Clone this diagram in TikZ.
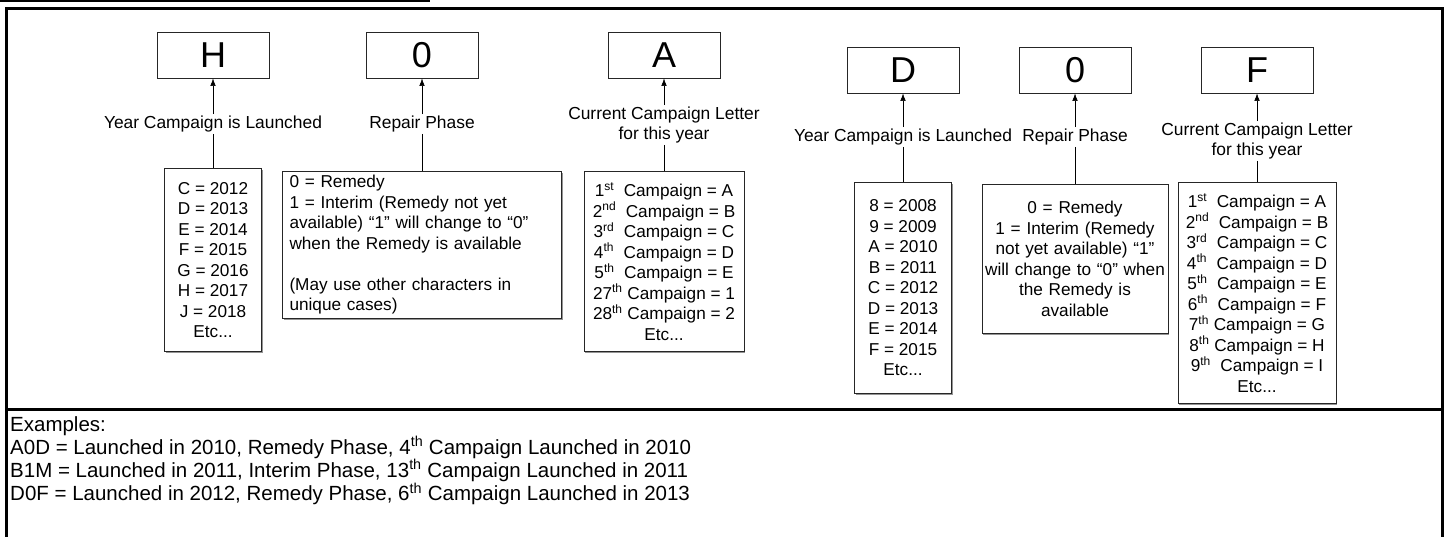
\documentclass[tikz,border=0pt]{standalone}
\usepackage{fontspec}
\setmainfont{Liberation Sans}
\usetikzlibrary{arrows.meta,shadows}
\tikzset{
  letterbox/.style={draw=black!85, line width=0.8pt, fill=white, minimum width=112pt, minimum height=46pt, inner sep=0pt,
    font=\fontsize{36}{40}\selectfont, drop shadow={shadow xshift=1.2pt, shadow yshift=-1.2pt, opacity=0.6, fill=black!70}},
  listbox/.style={draw=black!85, line width=0.8pt, fill=white, anchor=north, inner sep=0pt,
    font=\fontsize{17.2}{20.5}\selectfont, drop shadow={shadow xshift=1.2pt, shadow yshift=-1.2pt, opacity=0.6, fill=black!70}},
  lab/.style={inner sep=1.5pt, font=\fontsize{17.4}{20}\selectfont, align=center},
  upto/.style={-{Latex[length=7.5pt,width=5.5pt]}, line width=0.6pt},
  conn/.style={line width=0.6pt},
  frame/.style={line width=3pt}
}
\begin{document}
\begin{tikzpicture}[x=1pt,y=-1pt]
\useasboundingbox (0,0) rectangle (1447,537);
% outer frame and divider
\draw[line width=1.5pt] (0,1) -- (430,1);
\coordinate (fbl) at (6,540);
\coordinate (ftl) at (6,9);
\coordinate (ftr) at (1442,9);
\coordinate (fbr) at (1442,540);
\draw[frame] (fbl) -- (ftl) -- (ftr) -- (fbr);
\coordinate (dl) at (6,409);
\coordinate (dr) at (1442,409);
\draw[frame] (dl) -- (dr);

% ---------- left group ----------
\node[letterbox] (H) at (213,55) {H};
\node[letterbox] (Z1) at (422,55) {0};
\node[letterbox] (A) at (664,55) {A};

\node[lab] (lH) at (213,124) {Year Campaign is Launched};
\node[lab] (lZ1) at (422,124) {Repair Phase};
\node[lab] (lA) at (664,125) {Current Campaign Letter\\for this year};

\node[listbox, minimum width=97pt, minimum height=183pt, align=center] (yrL) at (213,168)
  {C = 2012\\D = 2013\\E = 2014\\F = 2015\\G = 2016\\H = 2017\\J = 2018\\Etc...};
\node[listbox, minimum width=279pt, minimum height=147pt, text width=265pt, align=left] (phL) at (422,171)
  {0 = Remedy\\1 = Interim (Remedy not yet\\available) “1” will change to “0”\\when the Remedy is available\\[20.5pt](May use other characters in\\unique cases)};
\node[listbox, minimum width=160pt, minimum height=180pt, align=center] (cpL) at (664,171)
  {1\textsuperscript{st}\ \ Campaign = A\\2\textsuperscript{nd}\ \ Campaign = B\\3\textsuperscript{rd}\ \ Campaign = C\\4\textsuperscript{th}\ \ Campaign = D\\5\textsuperscript{th}\ \ Campaign = E\\27\textsuperscript{th} Campaign = 1\\28\textsuperscript{th} Campaign = 2\\Etc...};

\draw[upto] (lH.north) -- (H.south);
\draw[upto] (lZ1.north) -- (Z1.south);
\draw[upto] (lA.north) -- (A.south);
\draw[conn] (lH.south) -- (yrL.north);
\draw[conn] (lZ1.south) -- (phL.north);
\draw[conn] (lA.south) -- (cpL.north);

% ---------- right group ----------
\node[letterbox] (D) at (903,70) {D};
\node[letterbox] (Z2) at (1075,70) {0};
\node[letterbox] (F) at (1257,70) {F};

\node[lab] (lD) at (903,137) {Year Campaign is Launched};
\node[lab] (lZ2) at (1075,137) {Repair Phase};
\node[lab] (lF) at (1257,141) {Current Campaign Letter\\for this year};

\node[listbox, minimum width=97pt, minimum height=211pt, align=center] (yrR) at (903,182)
  {8 = 2008\\9 = 2009\\A = 2010\\B = 2011\\C = 2012\\D = 2013\\E = 2014\\F = 2015\\Etc...};
\node[listbox, minimum width=186pt, minimum height=149pt, text width=180pt, align=center] (phR) at (1075,184)
  {0 = Remedy\\1 = Interim (Remedy\\not yet available) “1”\\will change to “0” when\\the Remedy is\\available};
\node[listbox, minimum width=158pt, minimum height=221pt, align=center] (cpR) at (1257,182)
  {1\textsuperscript{st}\ \ Campaign = A\\2\textsuperscript{nd}\ \ Campaign = B\\3\textsuperscript{rd}\ \ Campaign = C\\4\textsuperscript{th}\ \ Campaign = D\\5\textsuperscript{th}\ \ Campaign = E\\6\textsuperscript{th}\ \ Campaign = F\\7\textsuperscript{th} Campaign = G\\8\textsuperscript{th} Campaign = H\\9\textsuperscript{th}\ \ Campaign = I\\Etc...};

\draw[upto] (lD.north) -- (D.south);
\draw[upto] (lZ2.north) -- (Z2.south);
\draw[upto] (lF.north) -- (F.south);
\draw[conn] (lD.south) -- (yrR.north);
\draw[conn] (lZ2.south) -- (phR.north);
\draw[conn] (lF.south) -- (cpR.north);

% ---------- examples ----------
\node[anchor=north west, inner sep=0pt, align=left, font=\fontsize{20.5}{20.7}\selectfont] (ex) at (10,416)
  {Examples:\\
   A0D = Launched in 2010, Remedy Phase, 4\textsuperscript{th} Campaign Launched in 2010\\
   B1M = Launched in 2011, Interim Phase, 13\textsuperscript{th} Campaign Launched in 2011\\
   D0F = Launched in 2012, Remedy Phase, 6\textsuperscript{th} Campaign Launched in 2013};
\end{tikzpicture}
\end{document}
